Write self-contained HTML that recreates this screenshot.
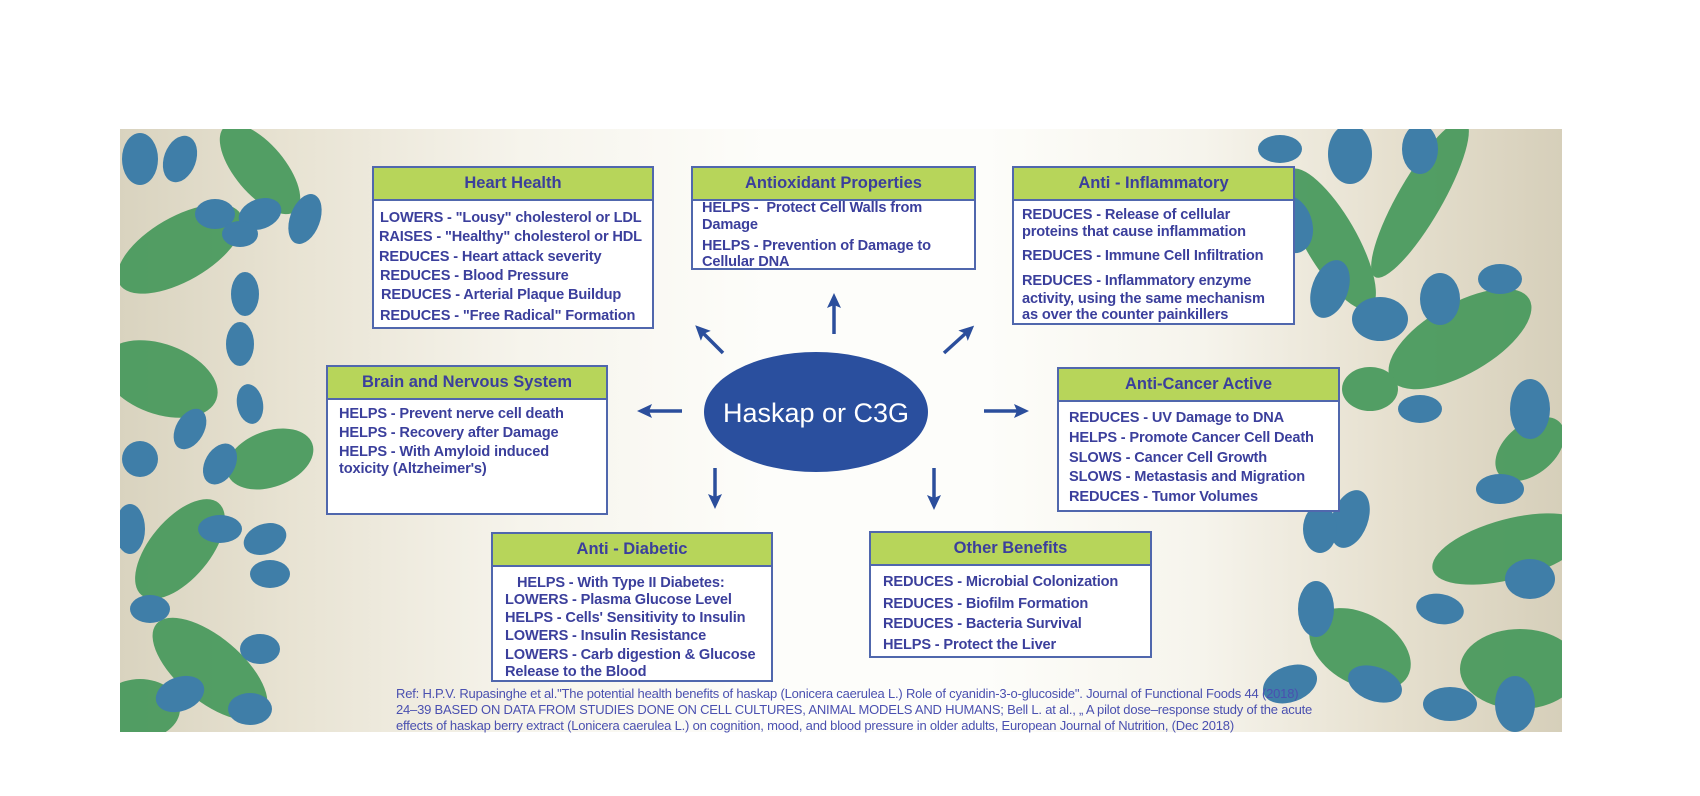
<!DOCTYPE html>
<html><head><meta charset="utf-8"><style>
*{margin:0;padding:0;box-sizing:border-box}
body{width:1700px;height:796px;background:#fff;position:relative;overflow:hidden;font-family:"Liberation Sans",Arial,sans-serif}
#photo{position:absolute;left:120px;top:129px;width:1442px;height:603px;overflow:hidden;
background:linear-gradient(90deg,#d9d3bf 0%,#e8e3d3 12%,#f6f4ec 28%,#fdfdfa 45%,#fdfdfa 60%,#f6f4ec 75%,#e6e0cf 88%,#d6cfba 100%)}
.box{position:absolute;background:#fff;border:2px solid #5067ad}
.hd{position:absolute;left:0;right:0;top:0;background:#b7d55a;border-bottom:2px solid #5067ad;color:#3b3f9c;font-weight:bold;font-size:16.5px;text-align:center}
.l{position:absolute;white-space:nowrap;color:#3b3f9c;font-weight:bold;font-size:14.6px;letter-spacing:-0.15px;line-height:18px}
.ref{position:absolute;left:396px;color:#4a50b0;font-size:13px;white-space:nowrap;letter-spacing:-0.2px}
</style></head><body>
<div id="photo">
<svg width="1442" height="603" style="position:absolute;left:0;top:0">
<g fill="#4a9a5e" opacity="0.95">
<ellipse cx="60" cy="120" rx="70" ry="32" transform="rotate(-30 60 120)"/>
<ellipse cx="140" cy="40" rx="55" ry="25" transform="rotate(50 140 40)"/>
<ellipse cx="40" cy="250" rx="60" ry="35" transform="rotate(20 40 250)"/>
<ellipse cx="150" cy="330" rx="45" ry="28" transform="rotate(-20 150 330)"/>
<ellipse cx="60" cy="420" rx="60" ry="30" transform="rotate(-50 60 420)"/>
<ellipse cx="90" cy="540" rx="70" ry="32" transform="rotate(40 90 540)"/>
<ellipse cx="20" cy="580" rx="40" ry="30"/>
<ellipse cx="1210" cy="110" rx="80" ry="26" transform="rotate(60 1210 110)"/>
<ellipse cx="1300" cy="70" rx="90" ry="22" transform="rotate(-60 1300 70)"/>
<ellipse cx="1340" cy="210" rx="80" ry="35" transform="rotate(-30 1340 210)"/>
<ellipse cx="1250" cy="260" rx="28" ry="22"/>
<ellipse cx="1390" cy="420" rx="80" ry="30" transform="rotate(-15 1390 420)"/>
<ellipse cx="1240" cy="520" rx="55" ry="35" transform="rotate(30 1240 520)"/>
<ellipse cx="1400" cy="540" rx="60" ry="40"/>
<ellipse cx="1410" cy="320" rx="40" ry="25" transform="rotate(-40 1410 320)"/>
</g>
<g fill="#3f7ea8">
<ellipse cx="20" cy="30" rx="18" ry="26"/><ellipse cx="60" cy="30" rx="16" ry="24" transform="rotate(20 60 30)"/>
<ellipse cx="95" cy="85" rx="20" ry="15"/><ellipse cx="140" cy="85" rx="22" ry="15" transform="rotate(-20 140 85)"/>
<ellipse cx="185" cy="90" rx="15" ry="26" transform="rotate(20 185 90)"/><ellipse cx="120" cy="105" rx="18" ry="13"/>
<ellipse cx="125" cy="165" rx="14" ry="22"/><ellipse cx="120" cy="215" rx="14" ry="22"/>
<ellipse cx="130" cy="275" rx="13" ry="20" transform="rotate(-10 130 275)"/>
<ellipse cx="70" cy="300" rx="14" ry="22" transform="rotate(30 70 300)"/><ellipse cx="20" cy="330" rx="18" ry="18"/>
<ellipse cx="100" cy="335" rx="15" ry="22" transform="rotate(30 100 335)"/>
<ellipse cx="10" cy="400" rx="15" ry="25"/><ellipse cx="100" cy="400" rx="22" ry="14"/>
<ellipse cx="145" cy="410" rx="22" ry="15" transform="rotate(-20 145 410)"/>
<ellipse cx="150" cy="445" rx="20" ry="14"/><ellipse cx="30" cy="480" rx="20" ry="14"/>
<ellipse cx="140" cy="520" rx="20" ry="15"/><ellipse cx="60" cy="565" rx="25" ry="17" transform="rotate(-20 60 565)"/>
<ellipse cx="130" cy="580" rx="22" ry="16"/>
<ellipse cx="1160" cy="20" rx="22" ry="14"/><ellipse cx="1230" cy="25" rx="22" ry="30"/>
<ellipse cx="1300" cy="20" rx="18" ry="25"/><ellipse cx="1170" cy="95" rx="22" ry="30" transform="rotate(-20 1170 95)"/>
<ellipse cx="1210" cy="160" rx="18" ry="30" transform="rotate(20 1210 160)"/><ellipse cx="1260" cy="190" rx="28" ry="22"/>
<ellipse cx="1320" cy="170" rx="20" ry="26"/><ellipse cx="1380" cy="150" rx="22" ry="15"/>
<ellipse cx="1410" cy="280" rx="20" ry="30"/><ellipse cx="1300" cy="280" rx="22" ry="14"/>
<ellipse cx="1230" cy="390" rx="18" ry="30" transform="rotate(20 1230 390)"/>
<ellipse cx="1380" cy="360" rx="24" ry="15"/><ellipse cx="1410" cy="450" rx="25" ry="20"/>
<ellipse cx="1196" cy="480" rx="18" ry="28"/><ellipse cx="1200" cy="400" rx="17" ry="24"/>
<ellipse cx="1320" cy="480" rx="24" ry="15" transform="rotate(10 1320 480)"/>
<ellipse cx="1170" cy="555" rx="28" ry="18" transform="rotate(-20 1170 555)"/>
<ellipse cx="1255" cy="555" rx="28" ry="17" transform="rotate(20 1255 555)"/>
<ellipse cx="1330" cy="575" rx="27" ry="17"/><ellipse cx="1395" cy="575" rx="20" ry="28"/>
</g>
</svg>
</div>

<!-- Heart Health -->
<div class="box" style="left:372px;top:166px;width:282px;height:163px"><div class="hd" style="height:33px;line-height:31px">Heart Health</div>
<div class="l" style="left:6px;top:41px">LOWERS - "Lousy" cholesterol or LDL</div>
<div class="l" style="left:5px;top:60px">RAISES - "Healthy" cholesterol or HDL</div>
<div class="l" style="left:5px;top:80px">REDUCES - Heart attack severity</div>
<div class="l" style="left:6px;top:99px">REDUCES - Blood Pressure</div>
<div class="l" style="left:7px;top:118px">REDUCES - Arterial Plaque Buildup</div>
<div class="l" style="left:6px;top:139px">REDUCES - "Free Radical" Formation</div>
</div>
<!-- Antioxidant -->
<div class="box" style="left:691px;top:166px;width:285px;height:104px"><div class="hd" style="height:33px;line-height:31px">Antioxidant Properties</div>
<div class="l" style="left:9px;top:31px">HELPS -&nbsp; Protect Cell Walls from</div>
<div class="l" style="left:9px;top:48px">Damage</div>
<div class="l" style="left:9px;top:69px">HELPS - Prevention of Damage to</div>
<div class="l" style="left:9px;top:85px">Cellular DNA</div>
</div>
<!-- Anti-Inflammatory -->
<div class="box" style="left:1012px;top:166px;width:283px;height:159px"><div class="hd" style="height:33px;line-height:31px">Anti - Inflammatory</div>
<div class="l" style="left:8px;top:38px">REDUCES - Release of cellular</div>
<div class="l" style="left:8px;top:55px">proteins that cause inflammation</div>
<div class="l" style="left:8px;top:79px">REDUCES - Immune Cell Infiltration</div>
<div class="l" style="left:8px;top:104px">REDUCES - Inflammatory enzyme</div>
<div class="l" style="left:8px;top:122px">activity, using the same mechanism</div>
<div class="l" style="left:8px;top:138px">as over the counter painkillers</div>
</div>
<!-- Brain -->
<div class="box" style="left:326px;top:365px;width:282px;height:150px"><div class="hd" style="height:33px;line-height:31px">Brain and Nervous System</div>
<div class="l" style="left:11px;top:38px">HELPS - Prevent nerve cell death</div>
<div class="l" style="left:11px;top:57px">HELPS - Recovery after Damage</div>
<div class="l" style="left:11px;top:76px">HELPS - With Amyloid induced</div>
<div class="l" style="left:11px;top:93px">toxicity (Altzheimer's)</div>
</div>
<!-- Anti-Cancer -->
<div class="box" style="left:1057px;top:367px;width:283px;height:145px"><div class="hd" style="height:33px;line-height:31px">Anti-Cancer Active</div>
<div class="l" style="left:10px;top:40px">REDUCES - UV Damage to DNA</div>
<div class="l" style="left:10px;top:60px">HELPS - Promote Cancer Cell Death</div>
<div class="l" style="left:10px;top:80px">SLOWS - Cancer Cell Growth</div>
<div class="l" style="left:10px;top:99px">SLOWS - Metastasis and Migration</div>
<div class="l" style="left:10px;top:119px">REDUCES - Tumor Volumes</div>
</div>
<!-- Anti-Diabetic -->
<div class="box" style="left:491px;top:532px;width:282px;height:150px"><div class="hd" style="height:33px;line-height:31px">Anti - Diabetic</div>
<div class="l" style="left:24px;top:40px">HELPS - With Type II Diabetes:</div>
<div class="l" style="left:12px;top:57px">LOWERS - Plasma Glucose Level</div>
<div class="l" style="left:12px;top:75px">HELPS - Cells' Sensitivity to Insulin</div>
<div class="l" style="left:12px;top:93px">LOWERS - Insulin Resistance</div>
<div class="l" style="left:12px;top:112px">LOWERS - Carb digestion &amp; Glucose</div>
<div class="l" style="left:12px;top:129px">Release to the Blood</div>
</div>
<!-- Other -->
<div class="box" style="left:869px;top:531px;width:283px;height:127px"><div class="hd" style="height:33px;line-height:31px">Other Benefits</div>
<div class="l" style="left:12px;top:40px">REDUCES - Microbial Colonization</div>
<div class="l" style="left:12px;top:62px">REDUCES - Biofilm Formation</div>
<div class="l" style="left:12px;top:82px">REDUCES - Bacteria Survival</div>
<div class="l" style="left:12px;top:103px">HELPS - Protect the Liver</div>
</div>

<svg width="1700" height="796" style="position:absolute;left:0;top:0">
<defs><marker id="a" markerWidth="16" markerHeight="14" refX="4" refY="7" orient="auto" markerUnits="userSpaceOnUse">
<path d="M0,0 L15,7 L0,14 L3,7 Z" fill="#2b4e9c"/></marker></defs>
<ellipse cx="816" cy="412" rx="112" ry="60" fill="#2a4f9e"/>
<text x="816" y="422" text-anchor="middle" fill="#fff" font-family="Liberation Sans, sans-serif" font-size="27">Haskap or C3G</text>
<g stroke="#2b4e9c" stroke-width="3.5" marker-end="url(#a)">
<line x1="834" y1="334" x2="834" y2="304"/>
<line x1="723" y1="353" x2="703" y2="333"/>
<line x1="944" y1="353" x2="966" y2="333"/>
<line x1="682" y1="411" x2="648" y2="411"/>
<line x1="984" y1="411" x2="1018" y2="411"/>
<line x1="715" y1="468" x2="715" y2="498"/>
<line x1="934" y1="468" x2="934" y2="499"/>
</g>
</svg>

<div class="ref" style="top:686px">Ref: H.P.V. Rupasinghe et al."The potential health benefits of haskap (Lonicera caerulea L.) Role of cyanidin-3-o-glucoside". Journal of Functional Foods 44 (2018)</div>
<div class="ref" style="top:702px">24–39 BASED ON DATA FROM STUDIES DONE ON CELL CULTURES, ANIMAL MODELS AND HUMANS; Bell L. at al., „ A pilot dose–response study of the acute</div>
<div class="ref" style="top:718px">effects of haskap berry extract (Lonicera caerulea L.) on cognition, mood, and blood pressure in older adults, European Journal of Nutrition, (Dec 2018)</div>
</body></html>
